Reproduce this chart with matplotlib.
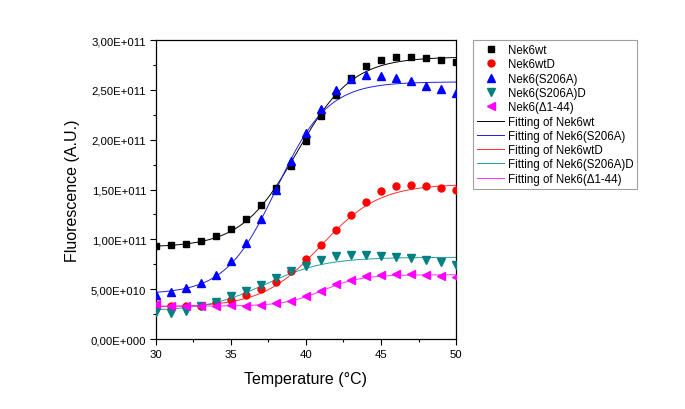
import numpy as np
import matplotlib
matplotlib.use('Agg')
import matplotlib.pyplot as plt
from matplotlib.ticker import FuncFormatter, MultipleLocator

plt.rcParams['font.family'] = ['Liberation Sans', 'DejaVu Sans']

# temperatures (one reading per degree)
temp = list(range(30, 51))

nek6wt = [9.36e10, 9.4e10, 9.56e10, 9.86e10, 1.03e11, 1.10e11, 1.20e11, 1.34e11, 1.52e11,
          1.74e11, 1.99e11, 2.24e11, 2.45e11, 2.62e11, 2.74e11, 2.80e11, 2.83e11, 2.83e11,
          2.82e11, 2.80e11, 2.78e11]
nek6wtD = [3.3e10, 3.3e10, 3.3e10, 3.34e10, 3.7e10, 3.9e10, 4.4e10, 5.0e10, 5.7e10,
           6.8e10, 8.0e10, 9.4e10, 1.09e11, 1.24e11, 1.37e11, 1.48e11, 1.54e11, 1.55e11,
           1.54e11, 1.52e11, 1.50e11]
s206a = [4.4e10, 4.7e10, 5.1e10, 5.6e10, 6.4e10, 7.8e10, 9.6e10, 1.2e11, 1.5e11,
         1.79e11, 2.07e11, 2.31e11, 2.50e11, 2.61e11, 2.65e11, 2.64e11, 2.62e11, 2.59e11,
         2.54e11, 2.51e11, 2.47e11]
s206aD = [2.7e10, 2.6e10, 2.8e10, 3.3e10, 3.7e10, 4.3e10, 4.8e10, 5.4e10, 6.1e10,
          6.8e10, 7.3e10, 7.9e10, 8.3e10, 8.4e10, 8.4e10, 8.3e10, 8.2e10, 8.1e10,
          7.9e10, 7.7e10, 7.4e10]
d1_44 = [3.5e10, 3.3e10, 3.3e10, 3.3e10, 3.3e10, 3.4e10, 3.3e10, 3.4e10, 3.6e10,
         3.8e10, 4.3e10, 4.8e10, 5.5e10, 5.9e10, 6.3e10, 6.4e10, 6.5e10, 6.5e10,
         6.4e10, 6.3e10, 6.2e10]

# Boltzmann fit parameters (bottom, top, midpoint, width)
# order: wt, S206A, wtD, S206A-D, d1-44
fit_bottom = [9.2e10, 4.5e10, 3.2e10, 2.8e10, 3.3e10]
fit_top = [2.83e11, 2.58e11, 1.555e11, 8.2e10, 6.45e10]
fit_mid = [39.4, 38.05, 41.0, 37.3, 41.1]
fit_width = [1.85, 1.7, 1.95, 2.0, 1.3]
fit_names = ['Fitting of Nek6wt', 'Fitting of Nek6(S206A)', 'Fitting of Nek6wtD',
             'Fitting of Nek6(S206A)D', 'Fitting of Nek6(\u03941-44)']
fit_colors = ['#000000', '#2020e0', '#ff3030', '#20a0a0', '#ff30ff']


def boltzmann(x, a1, a2, x0, dx):
    return a2 + (a1 - a2) / (1 + np.exp((x - x0) / dx))


def sci_fmt(v, pos):
    # Origin style: 2,50E+011
    if v == 0:
        return '0,00E+000'
    e = int(np.floor(np.log10(abs(v))))
    m = v / 10 ** e
    return ('%.2f' % m).replace('.', ',') + 'E+%03d' % e


fig = plt.figure(figsize=(6.85, 4.1), dpi=100)
ax = fig.add_axes([0.2277, 0.1707, 0.438, 0.7293])

ax.plot(temp, nek6wt, 's', color='black', ms=4.6, ls='none', label='Nek6wt', zorder=3)
ax.plot(temp, nek6wtD, 'o', color='red', ms=5, ls='none', label='Nek6wtD', zorder=3)
ax.plot(temp, s206a, '^', color='blue', ms=5.5, ls='none', label='Nek6(S206A)', zorder=3)
ax.plot(temp, s206aD, 'v', color='#008080', ms=5.5, ls='none', label='Nek6(S206A)D', zorder=3)
ax.plot(temp, d1_44, '<', color='magenta', ms=5.5, ls='none', label='Nek6(\u03941-44)', zorder=3)

xs = np.linspace(30, 50, 300)
for i in range(len(fit_names)):
    ax.plot(xs, boltzmann(xs, fit_bottom[i], fit_top[i], fit_mid[i], fit_width[i]),
            color=fit_colors[i], lw=0.7, label=fit_names[i], zorder=2)

ax.set_xlim(30, 50)
ax.set_ylim(0, 3e11)
ax.xaxis.set_major_locator(MultipleLocator(5))
ax.xaxis.set_minor_locator(MultipleLocator(2.5))
ax.yaxis.set_major_locator(MultipleLocator(5e10))
ax.yaxis.set_minor_locator(MultipleLocator(2.5e10))
ax.yaxis.set_major_formatter(FuncFormatter(sci_fmt))
ax.tick_params(which='major', direction='out', length=4, width=0.8, labelsize=8.2, pad=3)
ax.tick_params(which='minor', direction='out', length=2.5, width=0.8)
for s in ax.spines.values():
    s.set_linewidth(0.9)

ax.set_xlabel('Temperature (\u00b0C)', fontsize=11.5, labelpad=9)
ax.set_ylabel('Fluorescence (A.U.)', fontsize=11.5, labelpad=8)

leg = ax.legend(loc='upper left', bbox_to_anchor=(0.690, 0.9), bbox_transform=fig.transFigure,
                fontsize=8.3, frameon=True, fancybox=False, edgecolor='#888888',
                handlelength=2.4, handletextpad=0.3, labelspacing=0.2, borderpad=0.35,
                borderaxespad=0)
leg.get_frame().set_linewidth(0.8)

fig.savefig('out.png', dpi=100)
